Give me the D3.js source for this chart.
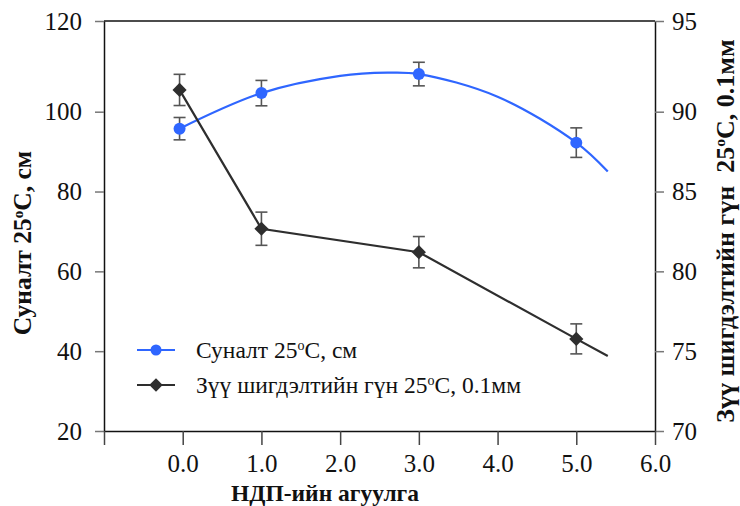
<!DOCTYPE html>
<html>
<head>
<meta charset="utf-8">
<script src="https://cdn.jsdelivr.net/npm/d3@7"></script>
<style>
  html, body { margin: 0; padding: 0; background: #fff; }
  svg text { font-family: "Liberation Serif", "Times New Roman", Tinos, "DejaVu Serif", serif !important; }
</style>
</head>
<body>
<svg id="chart" width="740" height="506"></svg>
<script>
// NDP content (x axis)
const xTicks = [-1, 0, 1, 2, 3, 4, 5, 6];
const leftTicks = [20, 40, 60, 80, 100, 120];
const rightTicks = [70, 75, 80, 85, 90, 95];

// Elongation at 25°C, cm (left axis)
const elongX = [-0.04, 1, 3, 5];
const elongY = [95.75, 104.1, 108.3, 92.25];
const elongErr = [2.8, 2.8, 2.6, 3.7];
// smoothed trend of elongation
const elongTrendX = [-0.04, 1, 2, 2.6, 3, 4, 5, 5.4];
const elongTrendY = [95.75, 104.1, 107.9, 108.6, 108.3, 103.3, 92.25, 85.0];

// Needle penetration at 25°C, 0.1 mm (right axis)
const penX = [-0.04, 1, 3, 5];
const penY = [91.2, 82.67, 81.2, 75.77];
const penErr = [0.86, 1.04, 0.98, 0.94];
const penLineX = [-0.04, 1, 3, 5, 5.4];
const penLineY = [91.2, 82.67, 81.2, 75.77, 74.7];

const svg = d3.select("#chart");
const L = 104, R = 655, T = 21, B = 431;

const x = d3.scaleLinear().domain([-1, 6]).range([L, R]);
const yL = d3.scaleLinear().domain([20, 100, 120]).range([B, 111.7, T]);
const yR = d3.scaleLinear().domain([70, 90, 95]).range([B, 111.7, T]);

const blue = "#2f66ff";
const dark = "#2e2e2e";

// frame top line
svg.append("line").attr("x1", L).attr("x2", R).attr("y1", T).attr("y2", T)
  .attr("stroke", "#111").attr("stroke-width", 1.5);

// left axis
const gL = svg.append("g").attr("transform", `translate(${L},0)`)
  .call(d3.axisLeft(yL).tickValues(leftTicks).tickSize(9).tickSizeOuter(0).tickPadding(13));
gL.select(".domain").attr("stroke", "#111").attr("stroke-width", 1.5);
gL.selectAll(".tick line").attr("stroke", "#777").attr("stroke-width", 1.5);
gL.selectAll(".tick text").attr("font-size", 25).attr("fill", "#111");

// right axis
const gR = svg.append("g").attr("transform", `translate(${R},0)`)
  .call(d3.axisRight(yR).tickValues(rightTicks).tickSize(9).tickSizeOuter(0).tickPadding(8));
gR.select(".domain").attr("stroke", "#111").attr("stroke-width", 1.5);
gR.selectAll(".tick line").attr("stroke", "#777").attr("stroke-width", 1.5);
gR.selectAll(".tick text").attr("font-size", 25).attr("fill", "#111");

// bottom axis
const gB = svg.append("g").attr("transform", `translate(0,${B})`)
  .call(d3.axisBottom(x).tickValues(xTicks).tickSize(14).tickSizeOuter(0).tickPadding(9)
    .tickFormat(d => d < 0 ? "" : d3.format(".1f")(d)));
gB.select(".domain").attr("stroke", "#111").attr("stroke-width", 1.5);
gB.selectAll(".tick line").attr("stroke", "#444").attr("stroke-width", 1.5);
gB.selectAll(".tick text").attr("font-size", 25).attr("fill", "#111");

// axis titles
svg.append("text").attr("x", 325).attr("y", 501).attr("text-anchor", "middle")
  .attr("font-size", 23.5).attr("font-weight", "bold").attr("fill", "#111")
  .text("НДП-ийн агуулга");

function titleWithDegree(sel, before, after) {
  sel.append("tspan").text(before);
  sel.append("tspan").attr("font-size", "0.6em").attr("dy", "-0.55em").text("o");
  sel.append("tspan").attr("dy", "0.33em").text(after);
}

const tL = svg.append("text").attr("transform", "translate(31,243) rotate(-90)")
  .attr("text-anchor", "middle").attr("font-size", 25.5).attr("font-weight", "bold").attr("fill", "#111");
titleWithDegree(tL, "Суналт 25", "C, см");

const tR = svg.append("text").attr("transform", "translate(734,231) rotate(-90)")
  .attr("text-anchor", "middle").attr("font-size", 26).attr("font-weight", "bold").attr("fill", "#111")
  .style("white-space", "pre");
titleWithDegree(tR, "Зүү шигдэлтийн гүн  25", "C, 0.1мм");

// elongation trend curve
const elongLine = d3.line().x(d => x(d[0])).y(d => yL(d[1])).curve(d3.curveCatmullRom.alpha(0.5));
svg.append("path").datum(d3.zip(elongTrendX, elongTrendY)).attr("d", elongLine)
  .attr("fill", "none").attr("stroke", blue).attr("stroke-width", 2.2);

// penetration line
const penLine = d3.line().x(d => x(d[0])).y(d => yR(d[1]));
svg.append("path").datum(d3.zip(penLineX, penLineY)).attr("d", penLine)
  .attr("fill", "none").attr("stroke", dark).attr("stroke-width", 2.2);

// error bars
function errorBars(xs, ys, es, yScale) {
  const g = svg.append("g").attr("stroke", "#555").attr("stroke-width", 1.6);
  xs.forEach((xv, i) => {
    const cx = x(xv), y1 = yScale(ys[i] + es[i]), y2 = yScale(ys[i] - es[i]);
    g.append("line").attr("x1", cx).attr("x2", cx).attr("y1", y1).attr("y2", y2);
    g.append("line").attr("x1", cx - 6).attr("x2", cx + 6).attr("y1", y1).attr("y2", y1);
    g.append("line").attr("x1", cx - 6).attr("x2", cx + 6).attr("y1", y2).attr("y2", y2);
  });
}
errorBars(elongX, elongY, elongErr, yL);
errorBars(penX, penY, penErr, yR);

// markers
svg.append("g").selectAll("path").data(d3.zip(penX, penY)).join("path")
  .attr("transform", d => `translate(${x(d[0])},${yR(d[1])}) rotate(45)`)
  .attr("d", d3.symbol().type(d3.symbolSquare).size(100)).attr("fill", dark);

svg.append("g").selectAll("circle").data(d3.zip(elongX, elongY)).join("circle")
  .attr("cx", d => x(d[0])).attr("cy", d => yL(d[1])).attr("r", 6).attr("fill", blue);

// legend
const lg = svg.append("g");
lg.append("line").attr("x1", 137).attr("x2", 175).attr("y1", 350).attr("y2", 350)
  .attr("stroke", blue).attr("stroke-width", 2);
lg.append("circle").attr("cx", 156).attr("cy", 350).attr("r", 5.5).attr("fill", blue);
const lt1 = lg.append("text").attr("x", 196).attr("y", 358).attr("font-size", 23.5).attr("fill", "#111");
titleWithDegree(lt1, "Суналт 25", "C, см");

lg.append("line").attr("x1", 137).attr("x2", 175).attr("y1", 385).attr("y2", 385)
  .attr("stroke", dark).attr("stroke-width", 2);
lg.append("path").attr("transform", "translate(156,385) rotate(45)")
  .attr("d", d3.symbol().type(d3.symbolSquare).size(90)).attr("fill", dark);
const lt2 = lg.append("text").attr("x", 196).attr("y", 393).attr("font-size", 23.5).attr("fill", "#111");
titleWithDegree(lt2, "Зүү шигдэлтийн гүн 25", "C, 0.1мм");
</script>
</body>
</html>
